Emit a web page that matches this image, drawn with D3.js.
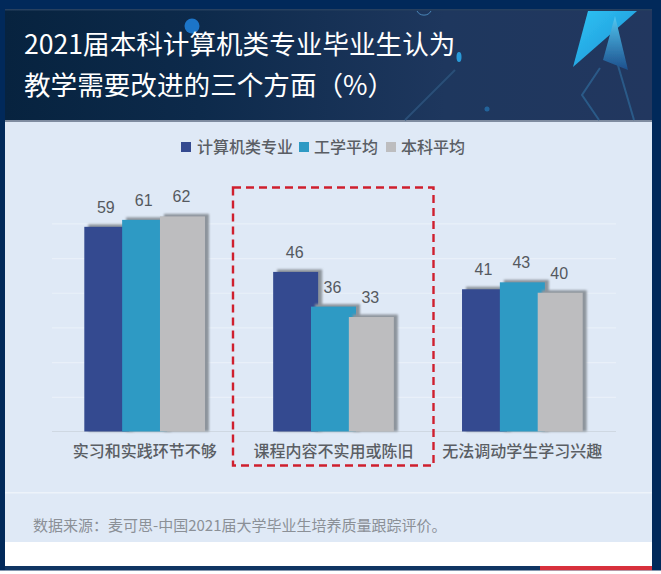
<!DOCTYPE html>
<html><head><meta charset="utf-8">
<script src="https://cdn.jsdelivr.net/npm/d3@7"></script>
<style>html,body{margin:0;padding:0;background:#fff}svg{display:block}text{font-family:"Noto Sans CJK SC","Noto Sans",sans-serif}</style>
</head><body><svg id="c" width="661" height="574"></svg>
<script>
const categories = ["实习和实践环节不够","课程内容不实用或陈旧","无法调动学生学习兴趣"];
const seriesNames = ["计算机类专业","工学平均","本科平均"];
const seriesColors = ["#344a90","#2e9ac4","#bdbdbf"];
const computerValues = [59,46,41];
const engineeringValues = [61,36,43];
const undergradValues = [62,33,40];
const gridTicks = [10,20,30,40,50,60];
const titleLines = ["2021届本科计算机类专业毕业生认为","教学需要改进的三个方面（%）"];
const sourceText = "数据来源：麦可思-中国2021届大学毕业生培养质量跟踪评价。";

const seriesValues = [computerValues, engineeringValues, undergradValues];
const svg = d3.select("#c");
const defs = svg.append("defs");
const hg = defs.append("linearGradient").attr("id","hg").attr("x1",0).attr("x2",1).attr("y1",0).attr("y2",0);
hg.append("stop").attr("offset",0).attr("stop-color","#07233f");
hg.append("stop").attr("offset",.3).attr("stop-color","#0d2a4b");
hg.append("stop").attr("offset",.68).attr("stop-color","#1e375e");
hg.append("stop").attr("offset",1).attr("stop-color","#22375f");
const lg = defs.append("linearGradient").attr("id","lg").attr("x1",0).attr("x2",1).attr("y1",0).attr("y2",1);
lg.append("stop").attr("offset",0).attr("stop-color","#2fc4f4");
lg.append("stop").attr("offset",1).attr("stop-color","#1c8ed4");
const lg2 = defs.append("linearGradient").attr("id","lg2").attr("x1",0).attr("x2",0).attr("y1",0).attr("y2",1);
lg2.append("stop").attr("offset",0).attr("stop-color","#52c8f2");
lg2.append("stop").attr("offset",1).attr("stop-color","#1d4f8c");
defs.append("filter").attr("id","b").attr("x","-20%").attr("width","140%").attr("y","-5%").attr("height","110%")
  .append("feGaussianBlur").attr("stdDeviation",1);
defs.append("filter").attr("id","s").append("feGaussianBlur").attr("stdDeviation",.5);

// page frame
svg.append("rect").attr("width",661).attr("height",574).attr("fill","#01295a");
svg.append("rect").attr("x",5).attr("y",9).attr("width",647).attr("height",111).attr("fill","url(#hg)");
svg.append("rect").attr("x",5).attr("y",9).attr("width",647).attr("height",1.5).attr("fill","#27405f");
svg.append("rect").attr("x",5).attr("y",120).attr("width",647).attr("height",2).attr("fill","#7f8ca0");
svg.append("rect").attr("x",5).attr("y",122).attr("width",647).attr("height",420).attr("fill","#dfe9f6");
svg.append("rect").attr("x",5).attr("y",492).attr("width",647).attr("height",1.5).attr("fill","#edf3fa");
svg.append("rect").attr("x",5).attr("y",542).attr("width",647).attr("height",24).attr("fill","#fff");
svg.append("rect").attr("x",5).attr("y",566).attr("width",535).attr("height",4.5).attr("fill","#0f3563");
svg.append("rect").attr("x",540).attr("y",566).attr("width",112).attr("height",4.5).attr("fill","#d8303c");
svg.append("rect").attr("x",0).attr("y",570.5).attr("width",661).attr("height",3.5).attr("fill","#fff");

// header decoration
const deco = svg.append("g").attr("filter","url(#s)");
deco.append("circle").attr("cx",192).attr("cy",26).attr("r",7.5).attr("fill","#1f74c8");
deco.append("ellipse").attr("cx",459).attr("cy",57).attr("rx",2.5).attr("ry",5).attr("fill","#2a9ad8");
deco.append("circle").attr("cx",487).attr("cy",109).attr("r",2.5).attr("fill","#24639b");
deco.append("path").attr("d","M417 11 A8 8 0 0 0 431 11").attr("fill","none").attr("stroke","#4a86b8").attr("stroke-width",1);
deco.append("path").attr("d","M405 120 L455 70").attr("fill","none").attr("stroke","#2a4f78").attr("stroke-width",2);
deco.append("path").attr("d","M228 150 L228 150 M600 68 L582 95 L599 120 M617 62 L634 120").attr("fill","none").attr("stroke","#2a5a88").attr("stroke-width",2);
deco.append("polygon").attr("points","588,11 637,11 573,67").attr("fill","url(#lg)");
deco.append("polygon").attr("points","615,16 603,60 628,70").attr("fill","url(#lg2)");

// title
svg.append("g").selectAll("text").data(titleLines).join("text")
  .attr("x",24).attr("y",(d,i)=>i?95:54).attr("fill","#fff").attr("font-size",26.6).text(d=>d);

// legend
const legendMarkX = [181,299,386], legendTextX = [197,314,401];
const lgd = svg.append("g").selectAll("g").data(seriesNames).join("g");
lgd.append("rect").attr("x",(d,i)=>legendMarkX[i]).attr("y",142).attr("width",10).attr("height",10).attr("fill",(d,i)=>seriesColors[i]);
lgd.append("text").attr("x",(d,i)=>legendTextX[i]).attr("y",153).attr("font-size",16).attr("font-weight",500).attr("fill","#5a5e64").text(d=>d);

// scales
const barW = 45;
const y = d3.scaleLinear().domain([0,62]).range([431.5,216.4]);
const x0 = d3.scaleBand().domain(categories).range([84.3,582.7]).paddingInner(.361).paddingOuter(0);
const x1 = d3.scalePoint().domain(seriesNames).range([0,x0.bandwidth()-barW]);

// grid + axis
const gridG = svg.append("g").attr("transform","translate(52,0)")
  .call(d3.axisLeft(y).tickValues(gridTicks).tickSize(-564).tickFormat(""));
gridG.select(".domain").remove();
gridG.selectAll("line").attr("stroke","#e9f0f9").attr("stroke-width",1.2);

const axG = svg.append("g").attr("transform","translate(0,431.5)")
  .call(d3.axisBottom(x0).tickSize(0).tickPadding(14));
axG.select(".domain").remove();
axG.selectAll("text").attr("font-size",16).attr("font-weight",500).attr("fill","#5a5e64").attr("font-family",'"Noto Sans CJK SC",sans-serif');
svg.append("line").attr("x1",52).attr("x2",616).attr("y1",y(0)).attr("y2",y(0)).attr("stroke","#cfd8e2");

// bars
const rows = categories.flatMap((c,ci)=>seriesNames.map((s,si)=>({c,s,si,v:seriesValues[si][ci]})));
const bars = svg.append("g").selectAll("g").data(rows).join("g")
  .attr("transform",d=>`translate(${x0(d.c)+x1(d.s)},0)`);
bars.append("rect").attr("x",4).attr("y",d=>y(d.v)-2.5).attr("width",barW).attr("height",d=>y(0)-y(d.v)+2.5)
  .attr("fill","#8d949c").attr("filter","url(#b)");
bars.append("rect").attr("y",d=>y(d.v)).attr("width",barW).attr("height",d=>y(0)-y(d.v)).attr("fill",d=>seriesColors[d.si]);
bars.append("text").attr("x",barW/2-1).attr("y",d=>y(d.v)-14).attr("text-anchor","middle")
  .attr("font-size",16).attr("fill","#55595f").style("font-family",'"Liberation Sans",sans-serif').text(d=>d.v);

// red dashed highlight
svg.append("rect").attr("x",233).attr("y",187.5).attr("width",200.5).attr("height",278)
  .attr("fill","none").attr("stroke","#cf1f2e").attr("stroke-width",2.4).attr("stroke-dasharray","8 5");

// source
svg.append("text").attr("x",33).attr("y",531).attr("font-size",15).attr("fill","#8b9097").text(sourceText);
</script></body></html>
